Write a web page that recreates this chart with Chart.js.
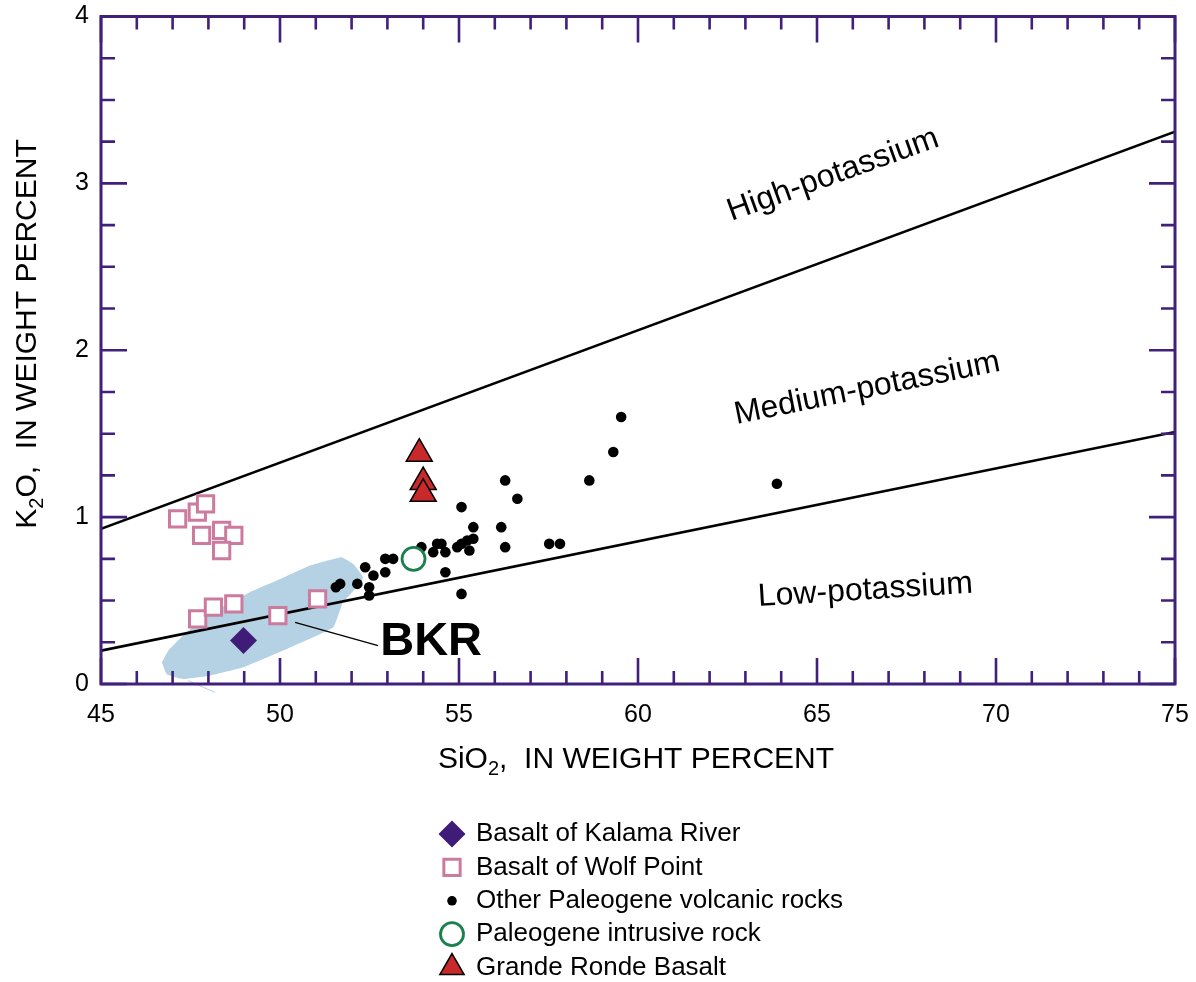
<!DOCTYPE html>
<html>
<head>
<meta charset="utf-8">
<script src="https://cdn.jsdelivr.net/npm/chart.js@4.4.1/dist/chart.umd.min.js"></script>
<style>
  html, body { margin: 0; background: #fff; }
  canvas { display: block; }
</style>
</head>
<body>
<canvas id="k2o-chart" width="1196" height="982"></canvas>
<script>
// ---------------------------------------- | Data (SiO2, K2O in weight percent)

const kalamaRiver = [[48.98, 0.26]]

const wolfPoint = [
  [47.14, 0.99], [47.69, 1.03], [47.92, 1.08], [47.81, 0.89], [48.37, 0.92],
  [48.71, 0.89], [48.37, 0.80], [47.70, 0.39], [48.14, 0.46], [48.71, 0.48],
  [49.94, 0.41], [51.05, 0.51]
]

const otherVolcanic = [
  [51.56, 0.58], [51.68, 0.60], [52.16, 0.60], [52.38, 0.70], [52.49, 0.58],
  [52.49, 0.53], [52.61, 0.65], [52.94, 0.67], [52.94, 0.75], [53.16, 0.75],
  [53.95, 0.82], [54.28, 0.79], [54.39, 0.84], [54.51, 0.84], [54.62, 0.79],
  [54.62, 0.67], [54.95, 0.82], [55.07, 0.84], [55.07, 1.06], [55.07, 0.54],
  [55.23, 0.86], [55.29, 0.80], [55.40, 0.87], [55.40, 0.94], [56.18, 0.94],
  [56.29, 1.22], [56.29, 0.82], [56.63, 1.11], [57.52, 0.84], [57.82, 0.84],
  [58.64, 1.22], [59.31, 1.39], [59.53, 1.60], [63.88, 1.20]
]

const intrusiveRock = [[53.73, 0.75]]

const grandeRonde = [[53.89, 1.38], [54.00, 1.21], [54.00, 1.14]]

// boundary lines between low-, medium- and high-potassium fields
const highKLine = [[45, 0.93], [75, 3.31]]
const lowKLine = [[45, 0.20], [75, 1.51]]

// shaded BKR field outline
const bkrField = [
  [46.70, 0.13], [46.88, 0.20], [47.39, 0.31], [48.04, 0.42], [49.16, 0.55],
  [49.91, 0.62], [50.84, 0.71], [51.72, 0.76], [52.04, 0.72], [52.32, 0.64],
  [52.23, 0.60], [51.76, 0.49], [51.49, 0.34], [50.19, 0.21], [48.97, 0.10],
  [48.04, 0.05], [47.30, 0.03], [47.07, 0.04], [46.83, 0.06], [46.70, 0.13]
]
const bkrTail = [[47.43, 0.02], [48.18, -0.05]]

const xTicks = [45, 50, 55, 60, 65, 70, 75]
const yTicks = [0, 1, 2, 3, 4]

// ---------------------------------------- | Style

const FONT = '"Liberation Sans", Arial, Helvetica, sans-serif'
const PURPLE = "#40207a"

const toPoints = rows => rows.map(([x, y]) => ({ x, y }))

const markerSet = (label, rows, style) => ({
  label,
  data: toPoints(rows),
  inLegend: true,
  showLine: false,
  pointStyle: style.shape,
  pointRadius: style.radius,
  pointHoverRadius: style.radius,
  pointBackgroundColor: style.fill,
  pointBorderColor: style.stroke,
  pointBorderWidth: style.width,
  backgroundColor: style.fill,
  borderColor: style.stroke,
  borderWidth: style.width,
  order: style.order
})

const boundary = rows => ({
  type: "line",
  data: toPoints(rows),
  showLine: true,
  borderColor: "#000",
  borderWidth: 2.6,
  pointRadius: 0,
  fill: false,
  order: 20
})

// ---------------------------------------- | Extra drawing (frame, ticks, texts, legend)

function drawRich(ctx, parts, x, y, size) {
  const fontFor = sub => `${sub ? Math.round(size * 0.68) : size}px ${FONT}`
  let total = 0
  parts.forEach(([t, sub]) => { ctx.font = fontFor(sub); total += ctx.measureText(t).width })
  let cx = x - total / 2
  ctx.textAlign = "left"
  ctx.textBaseline = "alphabetic"
  parts.forEach(([t, sub]) => {
    ctx.font = fontFor(sub)
    ctx.fillText(t, cx, sub ? y + size * 0.22 : y)
    cx += ctx.measureText(t).width
  })
}

const fieldLabels = [
  { text: "High-potassium", x: 65.45, y: 3.05, angle: -19.8 },
  { text: "Medium-potassium", x: 66.4, y: 1.77, angle: -11.4 },
  { text: "Low-potassium", x: 66.35, y: 0.56, angle: -3.6 }
]

const extras = {
  id: "extras",
  afterDraw(chart) {
    const { ctx, chartArea: a, scales: { x, y } } = chart
    ctx.save()

    // frame with inward ticks
    ctx.strokeStyle = PURPLE
    ctx.lineWidth = 2.6
    ctx.beginPath()
    for (let v = 45; v <= 75; v++) {
      const px = x.getPixelForValue(v)
      const len = v % 5 === 0 ? 26 : 13
      ctx.moveTo(px, a.bottom); ctx.lineTo(px, a.bottom - len)
      ctx.moveTo(px, a.top); ctx.lineTo(px, a.top + len)
    }
    for (let i = 0; i <= 16; i++) {
      const py = y.getPixelForValue(i / 4)
      const len = i % 4 === 0 ? 26 : 14
      ctx.moveTo(a.left, py); ctx.lineTo(a.left + len, py)
      ctx.moveTo(a.right, py); ctx.lineTo(a.right - len, py)
    }
    ctx.stroke()
    ctx.lineWidth = 3
    ctx.strokeRect(a.left, a.top, a.right - a.left, a.bottom - a.top)

    // field labels
    ctx.fillStyle = "#000"
    ctx.font = `32px ${FONT}`
    ctx.textAlign = "center"
    ctx.textBaseline = "middle"
    fieldLabels.forEach(l => {
      ctx.save()
      ctx.translate(x.getPixelForValue(l.x), y.getPixelForValue(l.y))
      ctx.rotate(l.angle * Math.PI / 180)
      ctx.fillText(l.text, 0, 0)
      ctx.restore()
    })

    // BKR label with leader line
    ctx.strokeStyle = "#000"
    ctx.lineWidth = 1.3
    ctx.beginPath()
    ctx.moveTo(x.getPixelForValue(50.42), y.getPixelForValue(0.37))
    ctx.lineTo(x.getPixelForValue(52.74), y.getPixelForValue(0.23))
    ctx.stroke()
    ctx.font = `bold 47px ${FONT}`
    ctx.textAlign = "left"
    ctx.fillText("BKR", x.getPixelForValue(52.8), y.getPixelForValue(0.25))

    // axis titles
    drawRich(ctx, [["SiO", false], ["2", true], [",  IN WEIGHT PERCENT", false]], 636, 768, 30)
    ctx.save()
    ctx.translate(25, 334)
    ctx.rotate(-Math.PI / 2)
    drawRich(ctx, [["K", false], ["2", true], ["O,  IN WEIGHT PERCENT", false]], 0, 11, 30)
    ctx.restore()

    // legend
    const rows = chart.data.datasets.filter(ds => ds.inLegend)
    rows.forEach((ds, i) => {
      const ly = 834 + i * 33.4
      ctx.fillStyle = ds.pointBackgroundColor
      ctx.strokeStyle = ds.pointBorderColor
      ctx.lineWidth = ds.pointBorderWidth
      Chart.helpers.drawPoint(ctx, {
        pointStyle: ds.pointStyle,
        radius: ds.pointStyle === "circle" && ds.pointRadius < 8 ? 4.8 : Math.min(ds.pointRadius, 14),
        rotation: 0,
        borderWidth: ds.pointBorderWidth
      }, 452, ly)
      ctx.fillStyle = "#000"
      ctx.font = `26px ${FONT}`
      ctx.textAlign = "left"
      ctx.textBaseline = "middle"
      ctx.fillText(ds.label, 476, ly)
    })

    ctx.restore()
  }
}

// ---------------------------------------- | Chart

const ctx = document.getElementById("k2o-chart").getContext("2d")

const k2oChart = new Chart(ctx, {
  type: "scatter",
  data: {
    datasets: [
      markerSet("Basalt of Kalama River", kalamaRiver, { shape: "rectRot", radius: 13.5, fill: "#3f1c77", stroke: "#3f1c77", width: 0, order: 1 }),
      markerSet("Basalt of Wolf Point", wolfPoint, { shape: "rect", radius: 11.5, fill: "#fff", stroke: "#cc7a9e", width: 3, order: 2 }),
      markerSet("Other Paleogene volcanic rocks", otherVolcanic, { shape: "circle", radius: 5.3, fill: "#000", stroke: "#000", width: 0, order: 3 }),
      markerSet("Paleogene intrusive rock", intrusiveRock, { shape: "circle", radius: 11.5, fill: "#fff", stroke: "#1b7f4e", width: 2.8, order: 2 }),
      markerSet("Grande Ronde Basalt", grandeRonde, { shape: "triangle", radius: 15, fill: "#c8292b", stroke: "#000", width: 1.5, order: 1 }),
      boundary(highKLine),
      boundary(lowKLine),
      {
        type: "line",
        data: toPoints(bkrField),
        showLine: true,
        tension: 0.1,
        borderWidth: 0,
        borderColor: "rgba(0,0,0,0)",
        backgroundColor: "#b4d2e3",
        fill: "shape",
        pointRadius: 0,
        order: 30
      },
      {
        type: "line",
        data: toPoints(bkrTail),
        showLine: true,
        borderWidth: 1,
        borderColor: "#b4d2e3",
        pointRadius: 0,
        fill: false,
        clip: false,
        order: 30
      }
    ]
  },
  options: {
    responsive: false,
    animation: false,
    devicePixelRatio: 1,
    layout: { padding: { top: 15, right: 21, bottom: 0, left: 0 } },
    plugins: {
      legend: { display: false },
      tooltip: { enabled: false }
    },
    scales: {
      x: {
        type: "linear",
        min: 45,
        max: 75,
        afterBuildTicks: scale => { scale.ticks = xTicks.map(value => ({ value })) },
        afterFit: scale => {
          scale.height = 298
          scale.paddingLeft = 0
          scale.paddingRight = 0
        },
        ticks: { color: "#000", font: { family: FONT, size: 25 }, padding: 16 },
        grid: { display: false, drawTicks: false },
        border: { display: false }
      },
      y: {
        type: "linear",
        min: 0,
        max: 4,
        afterBuildTicks: scale => { scale.ticks = yTicks.map(value => ({ value })) },
        afterFit: scale => {
          scale.width = 101
          scale.paddingTop = 0
          scale.paddingBottom = 0
        },
        ticks: { color: "#000", font: { family: FONT, size: 25 }, padding: 12 },
        grid: { display: false, drawTicks: false },
        border: { display: false }
      }
    }
  },
  plugins: [extras]
})
</script>
</body>
</html>
